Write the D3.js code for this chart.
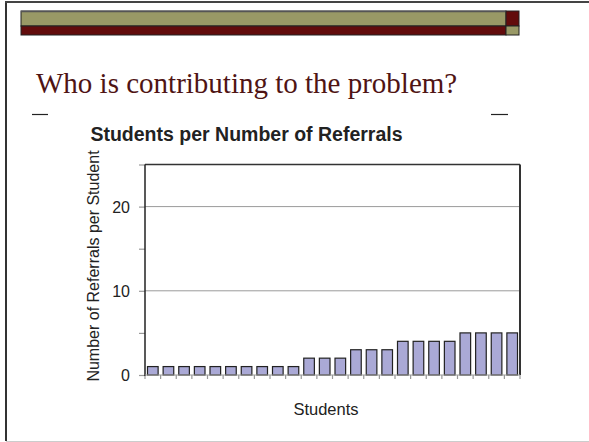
<!DOCTYPE html>
<html><head><meta charset="utf-8">
<script src="https://cdn.jsdelivr.net/npm/d3@7"></script>
<style>html,body{margin:0;padding:0;background:#fff;}svg{display:block;}</style>
</head><body>
<svg id="c" width="589" height="442"></svg>
<script>
// Data
const students = ["S1","S2","S3","S4","S5","S6","S7","S8","S9","S10","S11","S12",
                  "S13","S14","S15","S16","S17","S18","S19","S20","S21","S22","S23","S24"];
const referrals = [1,1,1,1,1,1,1,1,1,1,2,2,2,3,3,3,4,4,4,4,5,5,5,5];
const yTickLabels = [0,10,20];
const yMinorTicks = [5,15];
const slideTitle = "Who is contributing to the problem?";
const chartTitle = "Students per Number of Referrals";
const xTitle = "Students";
const yTitle = "Number of Referrals per Student";

const svg = d3.select("#c");

// slide frame
svg.append("line").attr("x1",6).attr("x2",6).attr("y1",2).attr("y2",441).attr("stroke","#333").attr("stroke-width",2);
svg.append("line").attr("x1",5).attr("x2",589).attr("y1",2).attr("y2",2).attr("stroke","#444").attr("stroke-width",2);
svg.append("line").attr("x1",6).attr("x2",589).attr("y1",441.5).attr("y2",441.5).attr("stroke","#ccc").attr("stroke-width",1);

// banner
const olive = "#999966", maroon = "#620c0c";
svg.append("rect").attr("x",21).attr("y",11).attr("width",485).attr("height",15).attr("fill",olive).attr("stroke","#222").attr("stroke-width",1);
svg.append("line").attr("x1",21).attr("x2",506).attr("y1",11.5).attr("y2",11.5).attr("stroke","#555").attr("stroke-width",1.5);
svg.append("rect").attr("x",21).attr("y",26).attr("width",485).attr("height",9).attr("fill",maroon).attr("stroke","#222").attr("stroke-width",1);
svg.append("rect").attr("x",506).attr("y",11).attr("width",13).attr("height",15).attr("fill",maroon).attr("stroke","#222").attr("stroke-width",1);
svg.append("rect").attr("x",506).attr("y",26).attr("width",13).attr("height",9).attr("fill",olive).attr("stroke","#222").attr("stroke-width",1);

// slide title
svg.append("text").attr("x",36).attr("y",93).attr("font-family","'Liberation Serif','Times New Roman',serif")
  .attr("font-size",29).attr("fill","#4f1414").text(slideTitle);
svg.append("line").attr("x1",32).attr("x2",48).attr("y1",114.5).attr("y2",114.5).attr("stroke","#222").attr("stroke-width",1.2);
svg.append("line").attr("x1",491).attr("x2",508).attr("y1",114.5).attr("y2",114.5).attr("stroke","#222").attr("stroke-width",1.2);

// chart title
svg.append("text").attr("x",246.5).attr("y",141).attr("text-anchor","middle")
  .attr("font-family","'Liberation Sans',Arial,sans-serif").attr("font-weight","bold")
  .attr("font-size",19.5).attr("fill","#222").text(chartTitle);

// plot
const L=145, R=520, T=164.5, B=375;
const x = d3.scaleBand().domain(students).range([L,R]).paddingInner(0.32).paddingOuter(0.16);
const y = d3.scaleLinear().domain([0,25]).range([B,T]);

const g = svg.append("g");
// gridlines
g.selectAll(".grid").data(yTickLabels.filter(d=>d>0)).join("line")
  .attr("x1",L).attr("x2",R).attr("y1",d=>y(d)).attr("y2",d=>y(d)).attr("stroke","#9a9a9a").attr("stroke-width",1);

// y axis ticks
const yAxis = d3.axisLeft(y).tickValues(yTickLabels.concat(yMinorTicks).concat([25])).tickSize(6)
  .tickFormat(d=>yTickLabels.includes(d)?d:"");
const ya = svg.append("g").attr("transform",`translate(${L},0)`).call(yAxis);
ya.attr("font-size",null).attr("font-family",null);
ya.select(".domain").remove();
ya.selectAll(".tick line").attr("stroke","#999").attr("stroke-width",1.2);
ya.selectAll(".tick text").style("font-family","'Liberation Sans',Arial,sans-serif").style("font-size","16px")
  .attr("fill","#222").attr("x",-15).attr("dy","0.36em");

// x ticks at band boundaries
const step = x.step();
const bounds = students.map(s=>x(s)-step*x.paddingInner()/2).concat([R]);
svg.selectAll(".xt").data(bounds).join("line")
  .attr("x1",d=>d).attr("x2",d=>d).attr("y1",B).attr("y2",B+4).attr("stroke","#999").attr("stroke-width",1.2);

// bars
svg.selectAll(".bar").data(referrals).join("rect")
  .attr("x",(d,i)=>x(students[i])).attr("width",x.bandwidth())
  .attr("y",d=>y(d)).attr("height",d=>B-y(d))
  .attr("fill","#aaa9d6").attr("stroke","#222").attr("stroke-width",1.2);

// frame lines
svg.append("line").attr("x1",L).attr("x2",R).attr("y1",T).attr("y2",T).attr("stroke","#333").attr("stroke-width",1.5);
svg.append("line").attr("x1",R).attr("x2",R).attr("y1",T).attr("y2",B).attr("stroke","#333").attr("stroke-width",2);
svg.append("line").attr("x1",L).attr("x2",L).attr("y1",T).attr("y2",B+1).attr("stroke","#222").attr("stroke-width",1.5);
svg.append("line").attr("x1",L).attr("x2",R).attr("y1",B).attr("y2",B).attr("stroke","#999").attr("stroke-width",1);

// axis titles
svg.append("text").attr("x",326).attr("y",415).attr("text-anchor","middle")
  .attr("font-family","'Liberation Sans',Arial,sans-serif").attr("font-size",16.5).attr("fill","#222").text(xTitle);
svg.append("text").attr("transform","translate(99,266) rotate(-90)").attr("text-anchor","middle")
  .attr("font-family","'Liberation Sans',Arial,sans-serif").attr("font-size",16).attr("fill","#222").text(yTitle);
</script>
</body></html>
